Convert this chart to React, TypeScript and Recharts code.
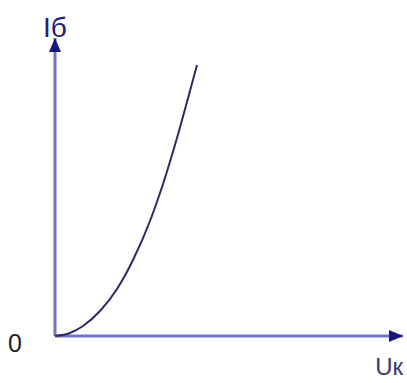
import React from 'react';
import { LineChart, Line, XAxis, YAxis, Scatter, ReferenceLine } from 'recharts';

// Uк (x) and Iб (y), in chart units
const VOLTAGE = [0, 15, 28, 45, 62, 78, 95, 108, 122, 132, 142];
const CURRENT = [0, 3, 10, 25, 47, 76, 115, 152, 198, 234, 271];

const X_MAX = 348;
const Y_MAX = 298;

const X_LABEL = 'Uк';
const Y_LABEL = 'Iб';
const ORIGIN_LABEL = '0';

const curve = VOLTAGE.map((u, i) => ({ u, i: CURRENT[i] }));
const xArrow = [{ u: X_MAX, i: 0 }];
const yArrow = [{ u: 0, i: Y_MAX }];
const origin = [{ u: 0, i: 0 }];

const FONT = '"Liberation Sans", Arial, sans-serif';
const AXIS = '#7474c4';
const ARROW = '#16167e';

const XArrowShape = (props: any) => {
  const { cx, cy } = props;
  return (
    <g>
      <polygon points={`${cx},${cy} ${cx - 14},${cy - 6} ${cx - 14},${cy + 6}`} fill={ARROW} />
      <text x={cx} y={cy + 39} textAnchor="end" fontSize={24} fontFamily={FONT} fill="#3a3a66">
        {X_LABEL}
      </text>
    </g>
  );
};

const YArrowShape = (props: any) => {
  const { cx, cy } = props;
  return (
    <g>
      <polygon points={`${cx},${cy} ${cx - 6},${cy + 14} ${cx + 6},${cy + 14}`} fill={ARROW} />
      <text x={cx} y={cy - 1} textAnchor="middle" fontSize={28} fontFamily={FONT} fill="#20207a">
        {Y_LABEL}
      </text>
    </g>
  );
};

const OriginShape = (props: any) => {
  const { cx, cy } = props;
  return (
    <text x={cx - 33} y={cy + 16} textAnchor="end" fontSize={25} fontFamily={FONT} fill="#222">
      {ORIGIN_LABEL}
    </text>
  );
};

export default function App() {
  return (
    <div style={{ position: 'absolute', left: 0, top: 0, background: '#fff' }}>
      <LineChart width={407} height={383} data={curve} margin={{ top: 38, right: 4, bottom: 47, left: 55 }}>
        <XAxis dataKey="u" type="number" domain={[0, X_MAX]} hide />
        <YAxis dataKey="i" type="number" domain={[0, Y_MAX]} hide />
        <ReferenceLine y={0} stroke={AXIS} strokeWidth={3} />
        <ReferenceLine x={0} stroke={AXIS} strokeWidth={3} />
        <Line
          dataKey="i"
          type="monotone"
          stroke="#2b2b66"
          strokeWidth={2}
          dot={false}
          isAnimationActive={false}
        />
        <Scatter data={xArrow} dataKey="i" shape={XArrowShape} isAnimationActive={false} />
        <Scatter data={yArrow} dataKey="i" shape={YArrowShape} isAnimationActive={false} />
        <Scatter data={origin} dataKey="i" shape={OriginShape} isAnimationActive={false} />
      </LineChart>
    </div>
  );
}
